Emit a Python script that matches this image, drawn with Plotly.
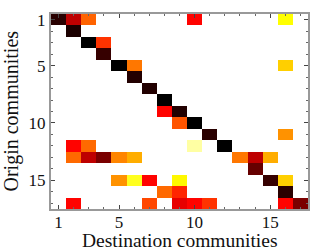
import plotly.graph_objects as go

n = 17
communities = list(range(1, n + 1))
tick_vals = [1, 5, 10, 15]

# (origin, destination, intensity 0..1); unlisted cells are empty
cells_origin = [1, 1, 1, 1, 1, 2, 3, 3, 4, 5, 5, 5, 6, 7, 8, 9, 9, 10, 10, 11, 11,
                12, 12, 12, 12, 13, 13, 13, 13, 13, 13, 13, 13, 14,
                15, 15, 15, 15, 15, 15, 16, 16, 16, 17, 17, 17, 17, 17, 17, 17]
cells_dest = [1, 2, 3, 10, 16, 2, 3, 4, 4, 5, 6, 16, 6, 7, 8, 8, 9, 9, 10, 11, 16,
              2, 3, 10, 12, 2, 3, 4, 5, 6, 13, 14, 15, 14,
              5, 6, 7, 9, 15, 16, 8, 9, 16, 2, 7, 9, 10, 11, 16, 17]
cells_value = [0.94, 0.72, 0.48, 0.62, 0.25, 0.96, 1.0, 0.55, 0.92, 1.0, 0.45, 0.32, 0.95, 0.95, 1.0, 0.62, 0.95, 0.50, 1.0, 0.94, 0.41,
               0.62, 0.47, 0.09, 1.0, 0.47, 0.72, 0.82, 0.43, 0.37, 0.45, 0.72, 0.37, 0.85,
               0.41, 0.22, 0.62, 0.26, 0.92, 0.32, 0.47, 0.57, 0.94, 0.62, 0.52, 0.66, 0.62, 0.55, 0.62, 0.82]

z = [[None] * n for _ in range(n)]
for o, d, v in zip(cells_origin, cells_dest, cells_value):
    z[o - 1][d - 1] = v

hot_r = [[0.0, "#ffffff"], [0.25, "#ffff00"], [0.625, "#ff0000"], [1.0, "#000000"]]

fig = go.Figure(go.Heatmap(
    x=communities, y=communities, z=z,
    colorscale=hot_r, zmin=0, zmax=1, showscale=False, hoverongaps=False,
))

font_family = "Liberation Serif, Times New Roman, serif"
axis_common = dict(
    tickvals=tick_vals, ticktext=[str(t) for t in tick_vals],
    ticks="inside", ticklen=4, tickcolor="#444444", tickwidth=1,
    minor=dict(dtick=1, tick0=1, ticks="inside", ticklen=2, tickcolor="#666666"),
    showline=True, linecolor="#999999", linewidth=2, mirror="allticks",
    showgrid=False, zeroline=False,
    tickfont=dict(family=font_family, size=17, color="#111111"),
)

fig.update_layout(
    width=332, height=250,
    margin=dict(l=51, r=24, t=11, b=41),
    plot_bgcolor="white", paper_bgcolor="white",
    font=dict(family=font_family, color="#111111"),
    xaxis=dict(range=[0.5, 17.5], ticklabelstandoff=-3, **axis_common),
    yaxis=dict(range=[17.5, 0.5], **axis_common),
    annotations=[
        dict(text="Destination communities", xref="paper", yref="paper",
             x=0.5, y=0, yshift=-31.5, xanchor="center", yanchor="middle",
             showarrow=False, font=dict(family=font_family, size=19.5)),
        dict(text="Origin communities", xref="paper", yref="paper",
             x=0, y=0.5, xshift=-40, xanchor="center", yanchor="middle", textangle=-90,
             showarrow=False, font=dict(family=font_family, size=20)),
    ],
)

fig.write_html("out.html", config={"displayModeBar": False},
               post_script="document.body.style.margin='0';document.body.style.overflow='hidden';")
